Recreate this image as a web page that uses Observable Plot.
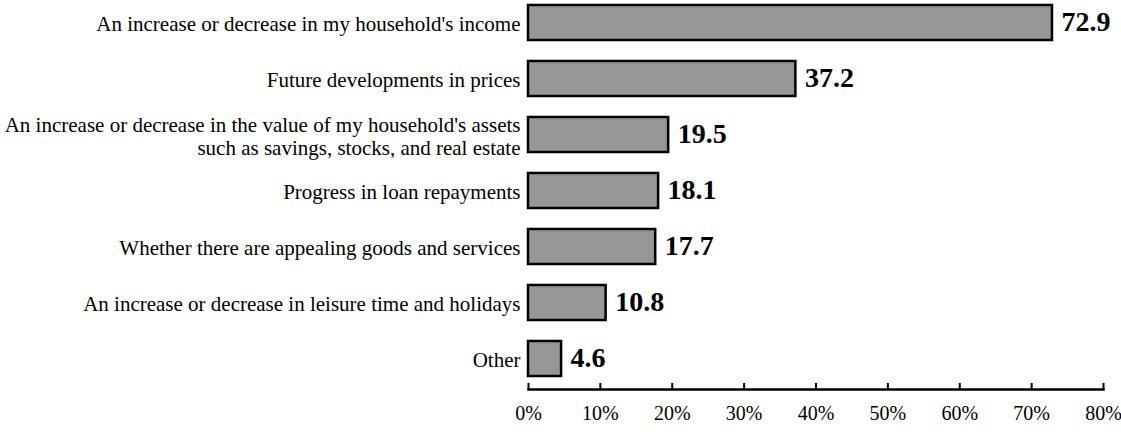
<!DOCTYPE html>
<html>
<head>
<meta charset="utf-8">
<script src="https://cdn.jsdelivr.net/npm/d3@7"></script>
<script src="https://cdn.jsdelivr.net/npm/@observablehq/plot@0.6"></script>
<style>
  html, body { margin: 0; padding: 0; background: #ffffff; }
</style>
</head>
<body>
<div id="chart"></div>
<script>
const categories = [
  "An increase or decrease in my household's income",
  "Future developments in prices",
  "An increase or decrease in the value of my household's assets\nsuch as savings, stocks, and real estate",
  "Progress in loan repayments",
  "Whether there are appealing goods and services",
  "An increase or decrease in leisure time and holidays",
  "Other"
];
const values = [72.9, 37.2, 19.5, 18.1, 17.7, 10.8, 4.6];
const xTicks = [0, 10, 20, 30, 40, 50, 60, 70, 80];

const data = categories.map((c, i) => ({label: c, value: values[i]}));

const chart = Plot.plot({
  width: 1121,
  height: 434,
  marginLeft: 528,
  marginRight: 18,
  marginTop: 0,
  marginBottom: 45,
  style: {fontFamily: "'Liberation Serif', 'Times New Roman', serif", fontSize: "20px", color: "black", background: "white"},
  x: {domain: [0, 80], ticks: xTicks, tickFormat: d => d + "%"},
  y: {domain: categories, range: [3, 378], paddingInner: 0.382, paddingOuter: 0},
  marks: [
    Plot.barX(data, {x: "value", y: "label", fill: "#969696", stroke: "black", strokeWidth: 2.5}),
    Plot.text(data, {x: "value", y: "label", text: d => d.value.toFixed(1), textAnchor: "start", dx: 9, dy: -1, fontWeight: "bold", fontSize: 28, fill: "black"}),
    Plot.axisY({tickSize: 0, tickPadding: 8, fontSize: 21, lineHeight: 1.1, dy: 1, label: null}),
    Plot.axisX({ticks: xTicks, tickFormat: d => d + "%", tickSize: -6, tickPadding: 22, strokeWidth: 2, fontSize: 20, label: null}),
    Plot.frame({anchor: "bottom", strokeWidth: 2.5})
  ]
});
document.getElementById("chart").appendChild(chart);
</script>
</body>
</html>
